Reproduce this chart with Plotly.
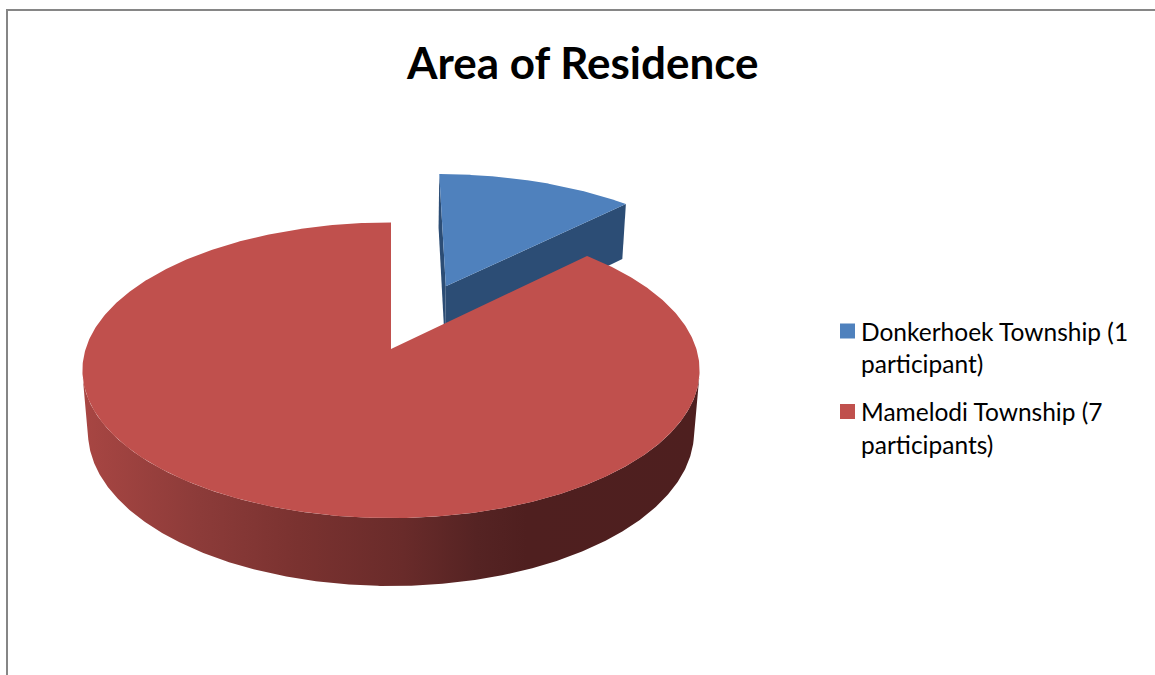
import numpy as np
import plotly.graph_objects as go

# ---- data -------------------------------------------------------------
categories = ["Donkerhoek Township", "Mamelodi Township"]
participants = [1, 7]
legend_lines = [
    ["Donkerhoek Township (1", "participant)"],
    ["Mamelodi Township (7", "participants)"],
]
top_colors = ["#4F81BD", "#C0504D"]
face_colors = ["#2C4D75", "#7A3230"]
side_scales = [
    [[0.0, "#4A76AD"], [1.0, "#24405F"]],
    [[0.0, "#A84643"], [0.19, "#8C3B39"], [0.35, "#7A3230"], [0.52, "#692B2A"],
     [0.64, "#552323"], [0.72, "#4F1F1F"], [1.0, "#4E1F1F"]],
]
explode = [0.5, 0.0]
title_text = "Area of Residence"

# ---- canvas / projection ---------------------------------------------
W, H = 1155, 675
CX, CY = 391.0, 349.0      # screen position of the pie centre
FOCAL = 1869.0
DIST = 6.12
TILT = np.radians(28.3)
THICK = 0.232              # disc thickness relative to radius
CAM = np.array([0.0, DIST * np.sin(TILT), -DIST * np.cos(TILT)])


def project(X, Y, Z):
    X, Y, Z = np.asarray(X, float), np.asarray(Y, float), np.asarray(Z, float)
    yp = Y * np.cos(TILT) + Z * np.sin(TILT)
    dp = Z * np.cos(TILT) - Y * np.sin(TILT)
    return CX + FOCAL * X / (DIST + dp), CY - FOCAL * yp / (DIST + dp)


def polygon_trace(xs, ys, color=None, gradient=None):
    kw = dict(x=list(xs), y=list(ys), mode="lines", fill="toself",
              line=dict(width=0, color="rgba(0,0,0,0)"),
              hoverinfo="skip", showlegend=False)
    if gradient is not None:
        kw["fillgradient"] = dict(type="horizontal", colorscale=gradient)
    else:
        kw["fillcolor"] = color
    return go.Scatter(**kw)


total = float(sum(participants))
bounds = np.concatenate([[0.0], np.cumsum(participants) / total]) * 2 * np.pi

slices = []
for i in range(len(participants)):
    a0, a1 = bounds[i], bounds[i + 1]
    mid = 0.5 * (a0 + a1)
    ox, oz = explode[i] * np.sin(mid), explode[i] * np.cos(mid)
    slices.append((i, a0, a1, ox, oz, oz + 0.5 * np.cos(mid)))

# back-to-front drawing order
slices.sort(key=lambda s: -s[5])

traces = []
for i, a0, a1, ox, oz, _ in slices:
    centre = np.array([ox, 0.0, oz])
    # radial cut faces
    for ang, nrm in ((a0, np.array([-np.cos(a0), 0.0, np.sin(a0)])),
                     (a1, np.array([np.cos(a1), 0.0, -np.sin(a1)]))):
        if np.dot(nrm, CAM - centre) > 1e-6:
            X = [ox, ox + np.sin(ang), ox + np.sin(ang), ox]
            Y = [0.0, 0.0, -THICK, -THICK]
            Z = [oz, oz + np.cos(ang), oz + np.cos(ang), oz]
            sx, sy = project(X, Y, Z)
            traces.append(polygon_trace(sx, sy, color=face_colors[i]))
    # outer curved side (only the part facing the viewer)
    th = np.linspace(a0, a1, 800)
    vis = (np.sin(th) * (CAM[0] - ox - np.sin(th))
           + np.cos(th) * (CAM[2] - oz - np.cos(th))) > 0
    idx = np.where(vis)[0]
    if idx.size:
        runs = np.split(idx, np.where(np.diff(idx) > 1)[0] + 1)
        for run in runs:
            t = th[run]
            tx, ty = project(ox + np.sin(t), np.zeros_like(t), oz + np.cos(t))
            bx, by = project(ox + np.sin(t), np.full_like(t, -THICK), oz + np.cos(t))
            traces.append(polygon_trace(np.concatenate([tx, bx[::-1]]),
                                        np.concatenate([ty, by[::-1]]),
                                        gradient=side_scales[i]))
    # top face
    t = np.linspace(a0, a1, 600)
    X = np.concatenate([[ox], ox + np.sin(t), [ox]])
    Z = np.concatenate([[oz], oz + np.cos(t), [oz]])
    sx, sy = project(X, np.zeros_like(X), Z)
    traces.append(polygon_trace(sx, sy, color=top_colors[i]))

fig = go.Figure(traces)

# ---- legend ------------------------------------------------------------
FONT = "Lato, Carlito, Calibri, sans-serif"
LEG_X, LEG_Y0 = 840, 331
ITEM_GAP, LINE_GAP, SQ = 80.5, 32.5, 15
shapes = [dict(type="rect", xref="paper", yref="paper",
               x0=7 / W, y0=1 - 10 / H, x1=1.1, y1=-0.1,
               line=dict(color="#868686", width=2), fillcolor="rgba(0,0,0,0)")]
annotations = [dict(x=582, y=62, xref="x", yref="y", text="<b>%s</b>" % title_text,
                    showarrow=False, xanchor="center", yanchor="middle",
                    font=dict(family=FONT, size=44, color="#000000"))]
for k, lines in enumerate(legend_lines):
    yc = LEG_Y0 + k * ITEM_GAP
    shapes.append(dict(type="rect", xref="x", yref="y", x0=LEG_X, x1=LEG_X + SQ,
                       y0=yc - SQ / 2, y1=yc + SQ / 2, fillcolor=top_colors[k],
                       line=dict(width=0)))
    for j, line in enumerate(lines):
        annotations.append(dict(x=LEG_X + 19, y=yc + j * LINE_GAP, xref="x", yref="y",
                                text=line, showarrow=False, xanchor="left",
                                yanchor="middle",
                                font=dict(family=FONT, size=24.5, color="#000000")))

fig.update_layout(
    width=W, height=H, margin=dict(l=0, r=0, t=0, b=0),
    paper_bgcolor="white", plot_bgcolor="white",
    xaxis=dict(range=[0, W], visible=False, fixedrange=True),
    yaxis=dict(range=[H, 0], visible=False, fixedrange=True),
    shapes=shapes, annotations=annotations, showlegend=False,
)

fig.write_html("out.html")
